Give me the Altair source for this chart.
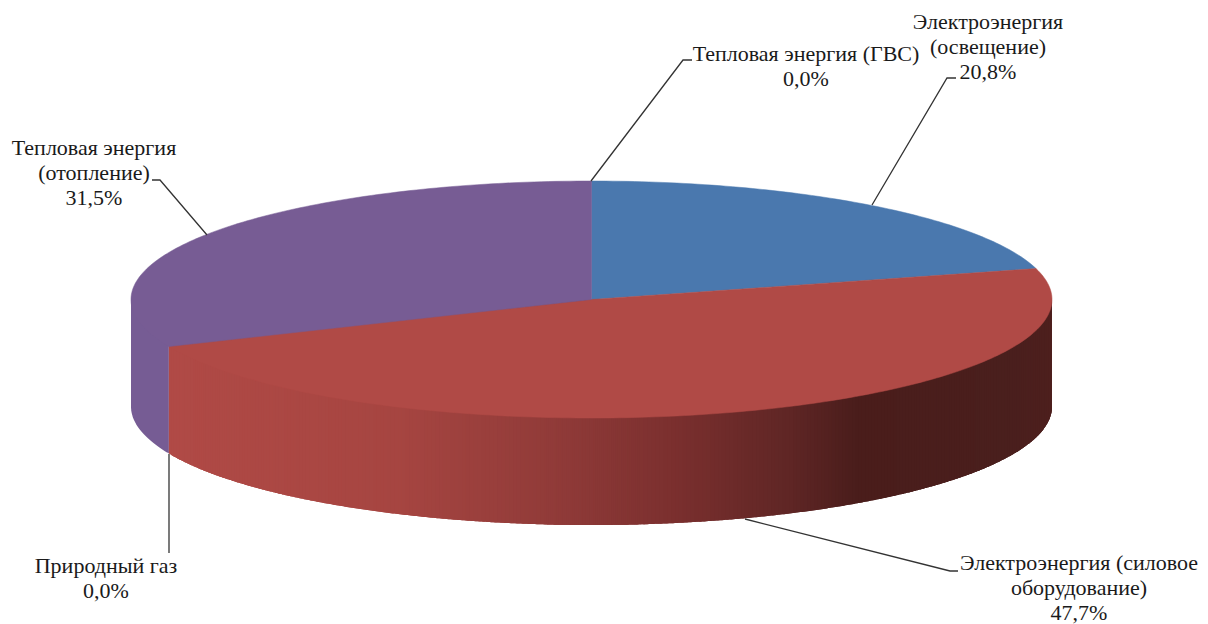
import math
import altair as alt
import pandas as pd

# ---- data ----
names = ["Электроэнергия (освещение)", "Электроэнергия (силовое оборудование)",
         "Природный газ", "Тепловая энергия (отопление)", "Тепловая энергия (ГВС)"]
shares = [20.8, 47.7, 0.0, 31.5, 0.0]
slice_colors = ["#4a78ae", "#b04a46", "#b04a46", "#775c94", "#775c94"]

label_lines = [
    ["Электроэнергия", "(освещение)", "20,8%"],
    ["Электроэнергия (силовое", "оборудование)", "47,7%"],
    ["Природный газ", "0,0%"],
    ["Тепловая энергия", "(отопление)", "31,5%"],
    ["Тепловая энергия (ГВС)", "0,0%"],
]
label_x = [988, 1079, 106, 94, 806]
label_y = [22, 563, 566, 148, 54]
line_step = 25.0

leaders = [
    [(872, 205), (947, 78), (956, 78)],
    [(745, 519), (950, 571), (958, 571)],
    [(169, 454), (169, 553)],
    [(207, 235), (160, 180), (152, 180)],
    [(591, 181), (683, 60), (692, 60)],
]

# pie geometry (in the chart's data units)
cx, cy, rx, ry, depth = 591.5, 299.5, 460.5, 118.5, 107

wall_stop_x = [170, 395, 564, 676, 788, 856, 1013, 1052]
wall_stop_colors = ["#b04a46", "#a64541", "#8f3a38", "#7a2f2e", "#5f2625", "#4a1d1b", "#4a1f1d", "#4d1f1d"]
purple_wall_color = "#765c94"

# ---- derived tables ----
def point(pct):
    a = math.radians(pct * 3.6)
    return cx + rx * math.sin(a), cy - ry * math.cos(a)

rows = []
start = 0.0
for k, (s, c) in enumerate(zip(shares, slice_colors)):
    if s > 0:
        pts = [(cx, cy)]
        n = int(s * 4) + 1
        pts += [point(start + s * j / n) for j in range(n + 1)]
        rows += [dict(k=k, i=i, x=p[0], y=p[1], c=c) for i, p in enumerate(pts)]
    start += s
top = pd.DataFrame(rows)

split_x = point(shares[0] + shares[1])[0]

def bottom_arc(x):
    return cy + ry * math.sqrt(max(0.0, 1 - ((x - cx) / rx) ** 2))

def wall_xs(x0, x1):
    a0 = math.degrees(math.acos(max(-1, min(1, (cx - x0) / rx))))
    a1 = math.degrees(math.acos(max(-1, min(1, (cx - x1) / rx))))
    n = max(2, int((a1 - a0) * 4))
    return [cx - rx * math.cos(math.radians(a0 + (a1 - a0) * j / n)) for j in range(n + 1)]

def band(xs):
    """Closed outline of the wall over xs; its upper edge is hidden under the top face."""
    return [(xs[0], cy), (xs[-1], cy)] + [(v, bottom_arc(v) + depth) for v in reversed(xs)]

purple = pd.DataFrame([dict(i=i, x=p[0], y=p[1]) for i, p in enumerate(band(wall_xs(cx - rx, split_x)))])

xs_r = wall_xs(split_x, cx + rx)
strip_rows = []
j = 0
strip = 0
while j < len(xs_r) - 1:
    # every strip starts 2 units after the previous one and runs 6 units, under the next strips
    end = j + 1
    while end < len(xs_r) - 1 and xs_r[end] < xs_r[j] + 6:
        end += 1
    for i, p in enumerate(band(xs_r[j:end + 1])):
        strip_rows.append(dict(s=strip, m=xs_r[j], i=i, x=p[0], y=p[1]))
    strip += 1
    nxt = j + 1
    while nxt < len(xs_r) - 1 and xs_r[nxt] < xs_r[j] + 2:
        nxt += 1
    j = nxt
strips = pd.DataFrame(strip_rows)

leader_df = pd.DataFrame([dict(k=k, i=i, x=p[0], y=p[1]) for k, l in enumerate(leaders) for i, p in enumerate(l)])
text_df = pd.DataFrame([dict(x=label_x[k], y=label_y[k] + j * line_step, t=t)
                        for k, ls in enumerate(label_lines) for j, t in enumerate(ls)])

X = alt.X("x:Q", scale=alt.Scale(domain=[8, 1200], nice=False, zero=False), axis=None)
Y = alt.Y("y:Q", scale=alt.Scale(domain=[624, 8], nice=False, zero=False), axis=None)

wall_purple = alt.Chart(purple).mark_line(
    interpolate="linear-closed", fill=purple_wall_color, strokeWidth=0
).encode(x=X, y=Y, order="i:Q")

wall_red = alt.Chart(strips).mark_line(interpolate="linear-closed", strokeWidth=0).encode(
    x=X, y=Y, detail="s:N", order="i:Q",
    fill=alt.Fill("m:Q", legend=None,
                  scale=alt.Scale(domain=wall_stop_x, range=wall_stop_colors, interpolate="rgb")),
)

top_layer = alt.Chart(top).mark_line(interpolate="linear-closed", strokeWidth=0.5).encode(
    x=X, y=Y, detail="k:N", order="i:Q",
    fill=alt.Fill("c:N", scale=None), stroke=alt.Stroke("c:N", scale=None),
)

leader_layer = alt.Chart(leader_df).mark_line(color="#333333", strokeWidth=1.3).encode(
    x=X, y=Y, detail="k:N", order="i:Q"
)

text_layer = alt.Chart(text_df).mark_text(
    font="Liberation Serif", fontSize=22, color="#1a1a1a", align="center", baseline="middle"
).encode(x=X, y=Y, text="t:N")

chart = alt.layer(wall_purple, wall_red, top_layer, leader_layer, text_layer).resolve_scale(
    fill="independent"
).properties(
    width=1192, height=616, padding=0,
    autosize=alt.AutoSizeParams(type="none"),
    background="white",
).configure_view(stroke=None)

chart.save("out.html", embed_options={"renderer": "svg", "actions": False})
